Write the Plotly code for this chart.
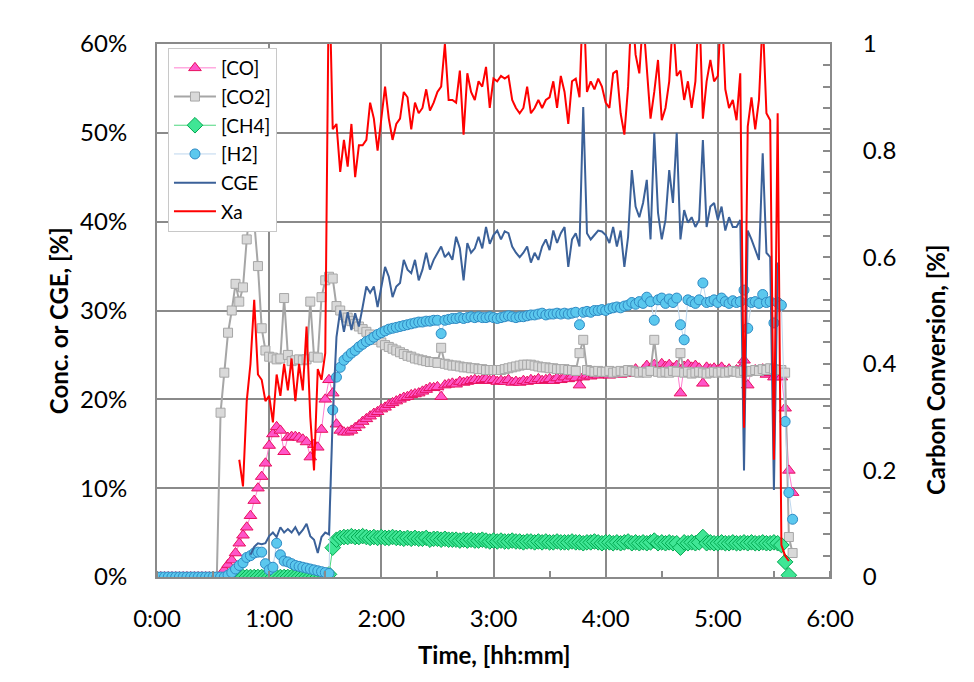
import plotly.graph_objects as go

# sampling grid (minutes after start), one sample every 2 minutes
minutes = list(range(0, 342, 2))
hours = [m / 60 for m in minutes]

x_tick_vals = [0, 1, 2, 3, 4, 5, 6]
x_tick_text = ["0:00", "1:00", "2:00", "3:00", "4:00", "5:00", "6:00"]

N = None

co = [
    0, 0, 0, 0, 0, 0, 0, 0, 0, 0,
    0, 0, 0, 0, 0, 0, 0, 0, 0.8, 1.4,
    1.9, 2.7, 3.8, 4.7, 5.6, 6.9, 8.6, 10.0, 11.3, 12.8,
    14.8, 16.1, 16.9, 16.5, 14.1, 15.7, 15.8, 15.8, 15.7, 15.5,
    15.2, 13.5, 14.9, 14.6, 16.6, 20.0, 22.2, 20.7, 17.2, 16.5,
    16.3, 16.3, 16.5, 16.8, 17.1, 17.5, 17.8, 18.1, 18.4, 18.6,
    18.9, 19.1, 19.4, 19.6, 19.8, 20.0, 20.2, 20.3, 20.5, 20.6,
    20.7, 20.9, 21.1, 21.3, 21.3, 21.4, 20.3, 21.6, 21.7, 21.8,
    21.7, 22.0, 21.9, 22.0, 22.1, 22.2, 22.1, 22.2, 22.3, 22.1,
    22.2, 22.0, 22.1, 22.0, 22.2, 21.9, 22.0, 21.9, 22.1, 22.0,
    22.2, 22.1, 22.3, 22.1, 22.2, 22.3, 22.1, 22.4, 22.2, 22.5,
    22.3, 22.6, 22.4, 21.6, 22.5, 22.7, 22.6, 22.8, 22.7, 22.9,
    22.8, 22.7, 22.9, 23.0, 22.8, 23.1, 22.9, 23.2, 23.4, 23.0,
    23.3, 23.8, 23.5, 23.9, 23.6, 24.0, 23.7, 23.9, 23.5, 23.8,
    20.7, 23.7, 23.9, 23.6, 23.8, 23.5, 21.8, 23.6, 23.4, 23.5,
    23.3, 23.6, 23.2, 23.4, 23.1, 23.3, 23.4, 24.4, 21.6, 23.2,
    23.3, 23.1, 23.4, 22.8, 23.0, 22.5, 22.8, 22.5, 19.0, 12.0,
    9.5,
]

co2 = [
    0, 0, 0, 0, 0, 0, 0, 0, 0, 0,
    0, 0, 0, 0, 0, 0, 0, 18.5, 23.0, 27.5,
    30.0, 33.0, 31.0, 32.6, 38.0, 42.0, 40.0, 35.0, 28.0, 25.5,
    24.8, 24.7, 24.5, 24.6, 31.4, 25.0, 24.3, 24.4, 24.5, 24.4,
    24.5, 31.0, 24.8, 24.7, 31.5, 33.4, 33.8, 33.6, 30.5, 30.0,
    29.5, 29.2, 28.8, 28.5, 28.2, 27.9, 27.6, 27.3, 27.0, 26.7,
    26.4, 26.1, 25.9, 25.7, 25.5, 25.3, 25.1, 24.9, 24.8, 24.6,
    24.5, 24.4, 24.3, 24.2, 24.2, 24.1, 25.8, 24.0, 23.9, 23.8,
    23.8, 23.7, 23.6, 23.6, 23.5, 23.5, 23.4, 23.4, 23.3, 23.3,
    23.3, 23.3, 23.3, 23.4, 23.5, 23.6, 23.7, 23.8, 23.9, 23.9,
    23.9, 23.8, 23.7, 23.6, 23.6, 23.5, 23.5, 23.4, 23.4, 23.4,
    23.3, 23.3, 23.2, 25.2, 26.7, 23.3, 23.2, 23.1, 23.2, 23.1,
    23.1, 23.2, 23.0, 23.1, 23.2, 23.1, 23.3, 23.2, 23.1, 23.0,
    23.1, 23.0, 23.2, 26.7, 23.1, 23.0, 23.1, 23.0, 23.2, 23.1,
    25.2, 23.0, 23.1, 22.9, 23.0, 23.1, 23.0, 22.9, 23.0, 23.1,
    23.0, 23.1, 23.0, 23.1, 23.2, 23.1, 23.0, 23.2, 23.1, 23.2,
    23.3, 23.2, 23.4, 23.3, 23.5, 23.4, 23.3, 23.3, 23.0, 4.5,
    2.7,
]

ch4 = [
    N, N, N, N, N, N, N, N, N, N,
    N, N, N, N, N, N, N, N, N, N,
    0, 0, 0, 0, 0, 0, 0, 0, 0, 0,
    0, 0, 0, 0, 0, 0, 0, 0, 0, 0,
    0, 0, 0, 0, 0, 0, 0.3, 3.3, 4.2, 4.4,
    4.5, 4.5, 4.6, 4.5, 4.5, 4.6, 4.5, 4.4, 4.5, 4.4,
    4.5, 4.4, 4.4, 4.5, 4.4, 4.4, 4.3, 4.4, 4.3, 4.4,
    4.3, 4.3, 4.4, 4.2, 4.3, 4.3, 4.2, 4.3, 4.2, 4.2,
    4.2, 4.1, 4.2, 4.1, 4.2, 4.1, 4.1, 4.2, 4.1, 4.0,
    4.1, 4.0, 4.1, 4.0, 4.0, 4.1, 4.0, 4.0, 3.9, 4.0,
    4.0, 3.9, 4.0, 3.9, 4.0, 3.9, 3.9, 4.0, 3.9, 3.9,
    3.9, 4.0, 3.9, 3.9, 3.8, 3.9, 3.9, 4.0, 3.9, 3.8,
    3.9, 3.9, 3.8, 3.9, 3.8, 3.9, 4.0, 3.8, 3.9, 3.8,
    3.9, 3.8, 3.9, 4.1, 3.8, 3.9, 3.8, 3.9, 3.8, 3.8,
    3.3, 3.9, 3.8, 3.9, 3.8, 3.9, 4.5, 3.8, 3.9, 3.8,
    3.8, 3.9, 3.8, 3.8, 3.9, 3.8, 3.8, 3.9, 3.8, 3.9,
    3.8, 3.8, 3.9, 3.8, 3.8, 3.9, 3.8, 3.6, 1.7, 0.2,
    N,
]

h2 = [
    0, 0, 0, 0, 0, 0, 0, 0, 0, 0,
    0, 0, 0, 0, 0, 0, 0, 0, 0, 0.2,
    0.5, 0.9, 1.3, 1.6, 2.2, 2.4, 2.7, 2.8, 2.8, 1.5,
    0.8, 1.1, 3.8, 2.5, 1.8, 1.7, 1.5, 1.3, 1.2, 1.1,
    1.0, 0.9, 0.8, 0.7, 0.6, 0.5, 0.4, 18.8, 22.5, 23.6,
    24.4, 24.8, 25.2, 25.5, 25.9, 26.2, 26.5, 26.7, 27.0, 27.3,
    27.5, 27.7, 27.9, 28.0, 28.1, 28.2, 28.3, 28.4, 28.5, 28.6,
    28.7, 28.7, 28.8, 28.8, 28.9, 28.9, 27.4, 28.9, 29.0, 29.1,
    29.1, 29.2, 29.1, 29.2, 29.3, 29.2, 29.3, 29.2, 29.2, 29.3,
    29.2, 29.1, 29.2, 29.3, 29.4, 29.3, 29.2, 29.3, 29.3, 29.4,
    29.5, 29.5, 29.6, 29.7, 29.5, 29.6, 29.6, 29.7, 29.6, 29.7,
    29.6, 29.7, 29.8, 28.4, 29.8, 29.9, 29.8, 30.0, 30.0, 30.1,
    30.0, 30.2, 30.3, 30.4, 30.3, 30.5, 30.6, 30.9, 30.7, 31.0,
    30.8, 31.5, 31.0, 28.9, 31.2, 31.4, 30.8, 31.3, 30.9, 31.4,
    28.4, 26.7, 31.2, 31.0, 30.8, 31.2, 33.1, 30.9, 31.0, 31.2,
    30.9, 31.4, 31.0, 30.8, 31.1, 30.9, 31.0, 32.3, 28.0, 30.9,
    31.0, 30.8, 31.8, 30.9, 31.0, 28.6, 30.9, 30.6, 17.5, 9.5,
    6.5,
]

cge = [
    N, N, N, N, N, N, N, N, N, N,
    N, N, N, N, N, N, N, N, N, N,
    N, N, N, N, N, 2.5, 3.4, 3.8, 3.7, 3.8,
    4.6, 5.0, 4.5, 5.6, 5.0, 5.4, 5.0, 5.6, 4.8, 5.3,
    6.0, 4.6, 4.2, 2.7, 4.5, 5.0, 4.8, 18.0, 27.0, 30.0,
    27.6, 29.8, 27.8, 29.7, 28.2, 30.4, 32.7, 32.0, 32.7, 30.4,
    32.7, 34.9, 33.8, 31.5, 32.7, 33.1, 35.7, 34.6, 34.2, 35.7,
    33.4, 34.6, 36.5, 34.6, 35.7, 36.5, 37.2, 36.0, 36.5, 35.7,
    38.3, 37.0, 33.4, 37.6, 36.5, 37.0, 38.3, 37.0, 39.4, 37.5,
    38.5, 39.0, 38.0, 38.9, 38.7, 37.2, 36.5, 36.0, 36.5, 37.2,
    35.4, 36.5, 35.7, 37.2, 38.0, 36.8, 39.0, 37.6, 38.7, 39.4,
    34.9, 38.0, 38.7, 37.2, 52.9, 38.7, 38.0, 38.5, 39.0, 38.9,
    38.5, 37.6, 39.4, 37.2, 39.0, 34.9, 38.3, 45.8, 41.7, 40.5,
    42.1, 44.7, 38.0, 50.0, 41.0, 38.0, 40.2, 45.8, 42.1, 50.0,
    38.0, 41.3, 39.9, 40.5, 39.4, 40.2, 49.2, 39.4, 41.7, 42.1,
    40.2, 41.7, 39.0, 40.5, 39.4, 39.4, 40.2, 12.0, 39.0, 38.0,
    36.8, 35.7, 47.7, 36.5, 36.0, 9.8, 35.4, N, N, N,
    N,
]

xa = [
    N, N, N, N, N, N, N, N, N, N,
    N, N, N, N, N, N, N, N, N, N,
    N, N, 0.22, 0.17, 0.33, 0.40, 0.52, 0.38, 0.37, 0.33,
    0.34, 0.29, 0.38, 0.34, 0.40, 0.35, 0.41, 0.33, 0.40, 0.35,
    0.47, 0.30, 0.20, 0.39, 0.37, 0.42, 1.15, 0.84, 0.85, 0.76,
    0.82, 0.77, 0.85, 0.75, 0.81, 0.81, 0.82, 0.89, 0.86, 0.80,
    0.86, 0.92, 0.86, 0.82, 0.85, 0.86, 0.91, 0.90, 0.84, 0.89,
    0.87, 0.88, 0.915, 0.875, 0.89, 0.91, 0.92, 1.0, 0.895, 0.895,
    0.89, 0.95, 0.83, 0.945, 0.91, 0.895, 0.93, 0.92, 0.957, 0.88,
    0.935, 0.93, 0.94, 0.935, 0.94, 0.895, 0.88, 0.87, 0.88, 0.92,
    0.87, 0.88, 0.895, 0.88, 0.895, 0.90, 0.93, 0.88, 0.94, 0.91,
    0.85, 0.93, 0.935, 0.90, 1.1, 0.91, 0.93, 0.915, 0.935, 0.92,
    0.89, 0.88, 0.945, 0.95, 0.87, 0.83, 0.92, 1.08, 0.98, 0.945,
    1.05, 0.96, 0.86, 0.91, 0.97, 0.857, 0.88, 0.93, 1.05, 0.94,
    0.95, 0.895, 0.93, 0.88, 0.93, 1.08, 0.86, 0.93, 0.97, 0.93,
    0.94, 1.08, 0.915, 0.88, 0.895, 0.857, 0.945, 0.28, 0.845, 0.90,
    0.84, 0.895, 1.05, 0.87, 0.857, 0.22, 0.87, 0.06, 0.04, 0.03,
    N,
]

FONT = "Lato"
GRID = "#8a8a8a"

fig = go.Figure()

fig.add_trace(go.Scatter(
    x=hours, y=co, name="[CO]", mode="lines+markers", legendgroup="a",
    line=dict(color="#FF7FD0", width=1),
    marker=dict(symbol="triangle-up", size=11, color="#FF55C8",
                line=dict(color="#E8105F", width=1)),
))
fig.add_trace(go.Scatter(
    x=hours, y=co2, name="[CO2]", mode="lines+markers", legendgroup="b",
    line=dict(color="#A6A6A6", width=2),
    marker=dict(symbol="square", size=9, color="#D9D9D9",
                line=dict(color="#A6A6A6", width=1)),
))
fig.add_trace(go.Scatter(
    x=hours, y=ch4, name="[CH4]", mode="lines+markers", legendgroup="c",
    line=dict(color="#4DD77F", width=1),
    marker=dict(symbol="diamond", size=12, color="#3FE695",
                line=dict(color="#00A84F", width=1)),
))
fig.add_trace(go.Scatter(
    x=hours, y=h2, name="[H2]", mode="lines+markers", legendgroup="d",
    line=dict(color="#BDD7EE", width=1),
    marker=dict(symbol="circle", size=10, color="#5BC8EE",
                line=dict(color="#2F8AC4", width=1)),
))
fig.add_trace(go.Scatter(
    x=hours, y=cge, name="CGE", mode="lines", legendgroup="e",
    line=dict(color="#3B6199", width=2),
))
fig.add_trace(go.Scatter(
    x=hours, y=xa, name="Xa", mode="lines", legendgroup="f", yaxis="y2",
    line=dict(color="#FF0000", width=2),
))

fig.update_layout(
    width=974, height=682,
    margin=dict(l=149, r=152, t=36, b=113),
    paper_bgcolor="white", plot_bgcolor="white",
    font=dict(family=FONT, size=24, color="black"),
    showlegend=True,
    legend=dict(
        x=0.0163, y=0.9925, xanchor="left", yanchor="top",
        bgcolor="white", bordercolor="#C8C8C8", borderwidth=1,
        font=dict(family=FONT, size=19, color="black"),
        tracegroupgap=1, itemwidth=42,
    ),
    xaxis=dict(
        range=[0, 6], tickvals=x_tick_vals, ticktext=x_tick_text,
        showgrid=True, gridcolor=GRID, gridwidth=1.5,
        zeroline=False, showline=True, linecolor=GRID, linewidth=2,
        mirror=True, ticks="", ticklabelstandoff=19,
        minor=dict(dtick=0.5, ticks="inside", ticklen=6,
                   tickcolor=GRID, tickwidth=1.5, showgrid=False),
        tickfont=dict(size=24),
    ),
    yaxis=dict(
        range=[0, 60], dtick=10, ticksuffix="%",
        showgrid=True, gridcolor=GRID, gridwidth=1.5,
        zeroline=False, showline=True, linecolor=GRID, linewidth=2,
        ticks="", ticklabelstandoff=23, tickfont=dict(size=24),
    ),
    yaxis2=dict(
        range=[0, 1], dtick=0.2, overlaying="y", side="right",
        showgrid=False, zeroline=False, showline=True,
        linecolor=GRID, linewidth=2,
        ticks="inside", ticklen=7, tickcolor=GRID, tickwidth=1.5,
        minor=dict(dtick=0.04, ticks="inside", ticklen=7,
                   tickcolor=GRID, tickwidth=1.5),
        ticklabelstandoff=26, tickfont=dict(size=24),
    ),
    annotations=[
        dict(text="<b>Conc. or CGE, [%]</b>", xref="paper", yref="paper",
             x=-0.147, y=0.48, xanchor="center", yanchor="middle",
             textangle=-90, showarrow=False,
             font=dict(size=24, family=FONT)),
        dict(text="<b>Carbon Conversion, [%]</b>", xref="paper", yref="paper",
             x=1.156, y=0.39, xanchor="center", yanchor="middle",
             textangle=-90, showarrow=False,
             font=dict(size=24, family=FONT)),
        dict(text="<b>Time, [hh:mm]</b>", xref="paper", yref="paper",
             x=0.502, y=-0.146, xanchor="center", yanchor="middle",
             showarrow=False,
             font=dict(size=24, family=FONT)),
    ],
)

fig.write_html("out.html")
